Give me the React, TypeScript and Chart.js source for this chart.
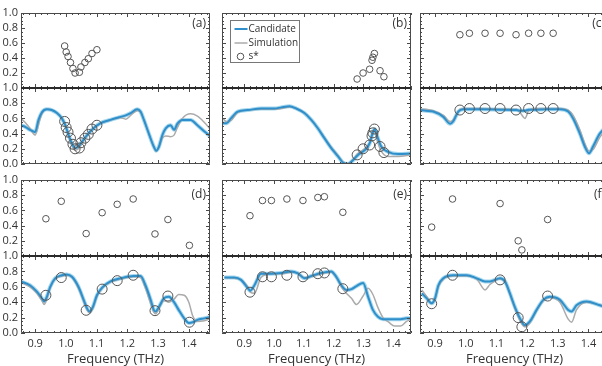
import React, { useEffect, useRef } from 'react';
import { Chart, registerables } from 'chart.js';

Chart.register(...registerables);

const FONT = "'Open Sans', 'Noto Sans', 'DejaVu Sans', sans-serif";

// ---- axis ticks / texts ----
const xTickValues = [0.9, 1.0, 1.1, 1.2, 1.3, 1.4];
const yTickValuesTop = [0.2, 0.4, 0.6, 0.8, 1.0];
const yTickValuesBottom = [0, 0.2, 0.4, 0.6, 0.8, 1.0];
const xAxisTitle = 'Frequency (THz)';
const panelLabels = ['(a)', '(b)', '(c)', '(d)', '(e)', '(f)'];
const seriesNames = ['Candidate', 'Simulation', 's*'];

// ---- frequency ranges per column (THz) ----
const xRangeCol1 = [0.854, 1.469];
const xRangeCol2 = [0.825, 1.46];
const xRangeCol3 = [0.851, 1.467];

// ---- (a) ----
const freqA = [0.853, 0.867, 0.883, 0.894, 0.9, 0.911, 0.922, 0.938, 0.954, 0.971, 0.987, 0.998, 1.009, 1.02, 1.03, 1.041, 1.052, 1.069, 1.09, 1.112, 1.145, 1.178, 1.195, 1.211, 1.232, 1.243, 1.254, 1.27, 1.286, 1.294, 1.303, 1.314, 1.325, 1.341, 1.352, 1.363, 1.379, 1.406, 1.428, 1.45, 1.472];
const candA = [0.51, 0.49, 0.45, 0.43, 0.42, 0.58, 0.68, 0.72, 0.71, 0.67, 0.6, 0.51, 0.38, 0.27, 0.21, 0.23, 0.29, 0.38, 0.47, 0.535, 0.58, 0.62, 0.64, 0.67, 0.72, 0.69, 0.58, 0.4, 0.23, 0.175, 0.23, 0.38, 0.47, 0.51, 0.45, 0.53, 0.58, 0.58, 0.51, 0.43, 0.36];
const simA = [0.6, 0.55, 0.47, 0.4, 0.38, 0.52, 0.66, 0.72, 0.71, 0.67, 0.6, 0.52, 0.36, 0.24, 0.18, 0.2, 0.27, 0.37, 0.47, 0.535, 0.58, 0.61, 0.59, 0.64, 0.7, 0.68, 0.58, 0.4, 0.22, 0.17, 0.22, 0.34, 0.37, 0.36, 0.38, 0.48, 0.6, 0.66, 0.63, 0.55, 0.45];
const sFreqA = [0.996, 1.001, 1.007, 1.015, 1.023, 1.03, 1.044, 1.049, 1.062, 1.073, 1.085, 1.101];
const sA = [0.56, 0.48, 0.42, 0.34, 0.26, 0.2, 0.21, 0.28, 0.34, 0.39, 0.46, 0.51];

// ---- (b) ----
const freqB = [0.827, 0.84, 0.855, 0.878, 0.912, 0.956, 1.001, 1.024, 1.052, 1.074, 1.102, 1.125, 1.147, 1.169, 1.192, 1.215, 1.231, 1.248, 1.265, 1.282, 1.304, 1.321, 1.332, 1.338, 1.347, 1.36, 1.383, 1.417, 1.461];
const candB = [0.535, 0.535, 0.6, 0.69, 0.71, 0.73, 0.73, 0.745, 0.76, 0.73, 0.67, 0.58, 0.47, 0.34, 0.21, 0.1, 0.02, 0.0, 0.05, 0.12, 0.18, 0.27, 0.42, 0.46, 0.36, 0.23, 0.16, 0.13, 0.14];
const simB = [0.6, 0.56, 0.57, 0.68, 0.71, 0.72, 0.72, 0.73, 0.75, 0.73, 0.67, 0.58, 0.47, 0.35, 0.22, 0.11, 0.03, 0.01, 0.06, 0.14, 0.2, 0.28, 0.4, 0.43, 0.3, 0.17, 0.1, 0.1, 0.12];
const sFreqB = [1.279, 1.299, 1.321, 1.329, 1.332, 1.337, 1.356, 1.369];
const sB = [0.12, 0.2, 0.25, 0.37, 0.41, 0.46, 0.23, 0.15];

// ---- (c) ----
const freqC = [0.851, 0.87, 0.894, 0.927, 0.949, 0.959, 0.976, 0.992, 1.05, 1.112, 1.165, 1.18, 1.193, 1.205, 1.22, 1.27, 1.307, 1.334, 1.35, 1.372, 1.388, 1.402, 1.415, 1.437, 1.467];
const candC = [0.71, 0.7, 0.69, 0.62, 0.53, 0.56, 0.69, 0.72, 0.72, 0.715, 0.71, 0.7, 0.7, 0.715, 0.715, 0.72, 0.72, 0.69, 0.6, 0.4, 0.23, 0.14, 0.23, 0.4, 0.52];
const simC = [0.72, 0.72, 0.7, 0.64, 0.56, 0.58, 0.7, 0.73, 0.73, 0.725, 0.72, 0.66, 0.6, 0.7, 0.73, 0.73, 0.73, 0.71, 0.64, 0.45, 0.27, 0.17, 0.19, 0.35, 0.5];
const sFreqC = [0.981, 1.012, 1.063, 1.112, 1.164, 1.205, 1.245, 1.285];
const sC = [0.71, 0.73, 0.73, 0.73, 0.71, 0.73, 0.73, 0.73];

// ---- (d) ----
const freqD = [0.853, 0.883, 0.905, 0.922, 0.929, 0.938, 0.949, 0.965, 0.987, 1.003, 1.02, 1.041, 1.058, 1.069, 1.077, 1.088, 1.101, 1.118, 1.145, 1.178, 1.221, 1.243, 1.259, 1.276, 1.286, 1.292, 1.303, 1.319, 1.335, 1.352, 1.367, 1.385, 1.4, 1.413, 1.428, 1.45, 1.472];
const candD = [0.67, 0.62, 0.54, 0.45, 0.41, 0.47, 0.6, 0.71, 0.75, 0.76, 0.73, 0.6, 0.43, 0.32, 0.28, 0.34, 0.49, 0.59, 0.67, 0.71, 0.74, 0.74, 0.62, 0.43, 0.3, 0.28, 0.34, 0.45, 0.47, 0.4, 0.3, 0.19, 0.13, 0.14, 0.17, 0.19, 0.21];
const simD = [0.66, 0.6, 0.52, 0.42, 0.37, 0.44, 0.58, 0.7, 0.74, 0.75, 0.72, 0.58, 0.41, 0.3, 0.26, 0.32, 0.47, 0.58, 0.66, 0.7, 0.73, 0.72, 0.58, 0.38, 0.27, 0.25, 0.32, 0.42, 0.4, 0.44, 0.5, 0.49, 0.4, 0.22, 0.15, 0.16, 0.19];
const sFreqD = [0.935, 0.985, 1.066, 1.118, 1.167, 1.219, 1.29, 1.332, 1.402];
const sD = [0.49, 0.72, 0.295, 0.57, 0.68, 0.75, 0.29, 0.48, 0.14];

// ---- (e) ----
const freqE = [0.833, 0.866, 0.889, 0.912, 0.92, 0.934, 0.956, 0.99, 1.024, 1.057, 1.08, 1.102, 1.125, 1.158, 1.192, 1.209, 1.226, 1.242, 1.26, 1.277, 1.299, 1.316, 1.332, 1.349, 1.366, 1.385, 1.405, 1.425, 1.445, 1.461];
const candE = [0.72, 0.72, 0.69, 0.58, 0.55, 0.62, 0.77, 0.77, 0.78, 0.8, 0.775, 0.71, 0.74, 0.78, 0.8, 0.73, 0.62, 0.56, 0.57, 0.61, 0.65, 0.47, 0.3, 0.21, 0.18, 0.18, 0.18, 0.18, 0.19, 0.19];
const simE = [0.72, 0.71, 0.69, 0.6, 0.53, 0.515, 0.72, 0.77, 0.77, 0.79, 0.78, 0.72, 0.73, 0.77, 0.79, 0.72, 0.6, 0.52, 0.45, 0.37, 0.48, 0.58, 0.5, 0.33, 0.2, 0.14, 0.09, 0.09, 0.15, 0.18];
const sFreqE = [0.919, 0.961, 0.991, 1.043, 1.097, 1.147, 1.169, 1.231];
const sE = [0.53, 0.73, 0.73, 0.75, 0.73, 0.77, 0.78, 0.575];

// ---- (f) ----
const freqF = [0.857, 0.873, 0.889, 0.9, 0.911, 0.927, 0.959, 1.003, 1.036, 1.063, 1.079, 1.112, 1.128, 1.144, 1.16, 1.177, 1.193, 1.209, 1.231, 1.253, 1.274, 1.307, 1.334, 1.345, 1.361, 1.394, 1.437, 1.467];
const candF = [0.515, 0.45, 0.385, 0.45, 0.62, 0.71, 0.75, 0.75, 0.71, 0.67, 0.67, 0.71, 0.67, 0.515, 0.34, 0.19, 0.1, 0.15, 0.3, 0.43, 0.47, 0.43, 0.3, 0.28, 0.36, 0.41, 0.36, 0.33];
const simF = [0.56, 0.47, 0.39, 0.44, 0.6, 0.7, 0.74, 0.74, 0.7, 0.56, 0.63, 0.7, 0.66, 0.5, 0.32, 0.16, 0.08, 0.13, 0.29, 0.42, 0.46, 0.4, 0.18, 0.14, 0.3, 0.4, 0.36, 0.33];
const sFreqF = [0.889, 0.957, 1.112, 1.171, 1.183, 1.267];
const sF = [0.38, 0.75, 0.69, 0.2, 0.08, 0.48];

type PanelDef = {
  col: number; row: number; label: string; xr: number[];
  freq: number[]; cand: number[]; sim: number[]; sFreq: number[]; s: number[];
};

const panels: PanelDef[] = [
  { col: 0, row: 0, label: panelLabels[0], xr: xRangeCol1, freq: freqA, cand: candA, sim: simA, sFreq: sFreqA, s: sA },
  { col: 1, row: 0, label: panelLabels[1], xr: xRangeCol2, freq: freqB, cand: candB, sim: simB, sFreq: sFreqB, s: sB },
  { col: 2, row: 0, label: panelLabels[2], xr: xRangeCol3, freq: freqC, cand: candC, sim: simC, sFreq: sFreqC, s: sC },
  { col: 0, row: 1, label: panelLabels[3], xr: xRangeCol1, freq: freqD, cand: candD, sim: simD, sFreq: sFreqD, s: sD },
  { col: 1, row: 1, label: panelLabels[4], xr: xRangeCol2, freq: freqE, cand: candE, sim: simE, sFreq: sFreqE, s: sE },
  { col: 2, row: 1, label: panelLabels[5], xr: xRangeCol3, freq: freqF, cand: candF, sim: simF, sFreq: sFreqF, s: sF },
];

// ---- layout (page pixels) ----
const CANVAS_W = 620;
const CANVAS_H = 366;
const COLS = [[21, 210], [222, 411], [420, 609]];
const ROWS = [[13, 88, 164], [180, 256, 333]];
const Y_W = 21;
const X_H = 33;

const BLUE = '#2f8fca';
const BLUE_BAND = 'rgba(105,188,228,0.6)';
const GRAY = '#ababab';
const CIRCLE = '#555555';
const FRAME = '#4a4a4a';
const TEXT = '#333333';

const pts = (xs: number[], ys: number[]) => xs.map((x, i) => ({ x, y: ys[i] }));

function framePlugin(panel: PanelDef, sub: 'top' | 'bottom') {
  return {
    id: 'frame_' + panel.col + '_' + panel.row + '_' + sub,
    afterDatasetsDraw(chart: any) {
      const ctx = chart.ctx;
      const { left, right, top, bottom } = chart.chartArea;
      const xs = chart.scales.x;
      const ys = chart.scales.y;
      ctx.save();
      ctx.strokeStyle = FRAME;
      ctx.lineWidth = 1;
      ctx.beginPath();
      const i0 = Math.ceil(xs.min * 50);
      const i1 = Math.floor(xs.max * 50);
      for (let i = i0; i <= i1; i++) {
        const px = Math.round(xs.getPixelForValue(i / 50)) + 0.5;
        const len = i % 5 === 0 ? 4 : 2;
        ctx.moveTo(px, top); ctx.lineTo(px, top + len);
        ctx.moveTo(px, bottom); ctx.lineTo(px, bottom - len);
      }
      for (let j = 0; j <= 20; j++) {
        const py = Math.round(ys.getPixelForValue(j / 20)) + 0.5;
        const len = j % 4 === 0 ? 4 : 2;
        ctx.moveTo(left, py); ctx.lineTo(left + len, py);
        ctx.moveTo(right, py); ctx.lineTo(right - len, py);
      }
      ctx.stroke();
      const l = Math.round(left) + 0.5, r = Math.round(right) - 0.5;
      const t = Math.round(top) + 0.5, b = Math.round(bottom) - 0.5;
      ctx.beginPath();
      ctx.moveTo(l, t); ctx.lineTo(l, b); ctx.lineTo(r, b); ctx.lineTo(r, t);
      if (sub === 'top') ctx.lineTo(l, t);
      ctx.stroke();
      if (sub === 'bottom') {
        ctx.strokeStyle = '#2a2a2a';
        ctx.lineWidth = 2;
        ctx.beginPath();
        ctx.moveTo(left, Math.round(top));
        ctx.lineTo(right, Math.round(top));
        ctx.stroke();
      }
      if (sub === 'top') {
        ctx.fillStyle = TEXT;
        ctx.font = `12px ${FONT}`;
        ctx.textAlign = 'right';
        ctx.textBaseline = 'middle';
        ctx.fillText(panel.label, right - 4, top + (panel.row === 0 ? 10.5 : 14.5));
      }
      if (sub === 'top' && panel.col === 1 && panel.row === 0) {
        const bx = Math.round(left) + 8.5, by = Math.round(top) + 7.5;
        ctx.fillStyle = '#ffffff';
        ctx.fillRect(bx, by, 69, 42);
        ctx.strokeStyle = '#777';
        ctx.lineWidth = 1;
        ctx.strokeRect(bx, by, 69, 42);
        const rowsY = [by + 8.5, by + 22.5, by + 36];
        ctx.lineWidth = 2;
        ctx.strokeStyle = BLUE;
        ctx.beginPath(); ctx.moveTo(bx + 4, rowsY[0]); ctx.lineTo(bx + 17, rowsY[0]); ctx.stroke();
        ctx.lineWidth = 1.5;
        ctx.strokeStyle = GRAY;
        ctx.beginPath(); ctx.moveTo(bx + 4, rowsY[1]); ctx.lineTo(bx + 17, rowsY[1]); ctx.stroke();
        ctx.lineWidth = 1;
        ctx.strokeStyle = CIRCLE;
        ctx.beginPath(); ctx.arc(bx + 10, rowsY[2], 3.3, 0, Math.PI * 2); ctx.stroke();
        ctx.fillStyle = TEXT;
        ctx.font = `10px ${FONT}`;
        ctx.textAlign = 'left';
        ctx.textBaseline = 'middle';
        ctx.fillText(seriesNames[0], bx + 18, rowsY[0]);
        ctx.fillText(seriesNames[1], bx + 18, rowsY[1]);
        ctx.fillText(seriesNames[2], bx + 18, rowsY[2]);
      }
      ctx.restore();
    },
  };
}

function buildChart(canvas: HTMLCanvasElement, panel: PanelDef, sub: 'top' | 'bottom') {
  const [L, R] = COLS[panel.col];
  const [T, M, B] = ROWS[panel.row];
  const top = sub === 'top' ? T : M;
  const bottom = sub === 'top' ? M : B;
  const showY = panel.col === 0;
  const showX = sub === 'bottom' && panel.row === 1;
  const padding = {
    left: showY ? L - Y_W : L,
    right: CANVAS_W - R,
    top,
    bottom: CANVAS_H - bottom - (showX ? X_H : 0),
  };

  const circles = {
    label: seriesNames[2],
    data: pts(panel.sFreq, panel.s),
    showLine: false,
    pointRadius: sub === 'top' ? 3.3 : 5,
    pointHoverRadius: sub === 'top' ? 3.3 : 5,
    pointBorderWidth: 1,
    pointBorderColor: CIRCLE,
    pointBackgroundColor: 'rgba(0,0,0,0)',
    order: 0,
  };

  const datasets: any[] = [circles];
  if (sub === 'bottom') {
    datasets.push(
      {
        label: seriesNames[0],
        data: pts(panel.freq, panel.cand),
        borderColor: BLUE,
        borderWidth: 2,
        pointRadius: 0,
        cubicInterpolationMode: 'monotone',
        order: 1,
      },
      {
        label: seriesNames[1],
        data: pts(panel.freq, panel.sim),
        borderColor: GRAY,
        borderWidth: 1.5,
        pointRadius: 0,
        cubicInterpolationMode: 'monotone',
        order: 2,
      },
      {
        label: seriesNames[0] + ' band',
        data: pts(panel.freq, panel.cand),
        borderColor: BLUE_BAND,
        borderWidth: 4,
        pointRadius: 0,
        cubicInterpolationMode: 'monotone',
        order: 3,
      }
    );
  }

  return new Chart(canvas, {
    type: 'line',
    data: { datasets },
    options: {
      animation: false,
      responsive: false,
      devicePixelRatio: 1,
      events: [],
      layout: { padding },
      plugins: { legend: { display: false }, tooltip: { enabled: false } },
      scales: {
        x: {
          type: 'linear',
          min: panel.xr[0],
          max: panel.xr[1],
          display: showX,
          afterFit: (s: any) => { if (showX) s.height = X_H; },
          afterBuildTicks: (s: any) => { s.ticks = xTickValues.map((v) => ({ value: v })); },
          grid: { display: false, drawTicks: false },
          border: { display: false },
          ticks: {
            autoSkip: false,
            maxRotation: 0,
            padding: 4,
            color: TEXT,
            font: { family: FONT, size: 11 },
            callback: (v: any) => Number(v).toFixed(1),
          },
          title: {
            display: true,
            text: xAxisTitle,
            color: TEXT,
            font: { family: FONT, size: 13, lineHeight: 1 },
            padding: { top: 0, bottom: 0 },
          },
        },
        y: {
          type: 'linear',
          min: 0,
          max: 1,
          display: showY,
          afterFit: (s: any) => { if (showY) s.width = Y_W; },
          afterBuildTicks: (s: any) => {
            s.ticks = (sub === 'top' ? yTickValuesTop : yTickValuesBottom).map((v) => ({ value: v }));
          },
          grid: { display: false, drawTicks: false },
          border: { display: false },
          ticks: {
            autoSkip: false,
            padding: 3,
            color: TEXT,
            font: { family: FONT, size: 11 },
            callback: (v: any) => Number(v).toFixed(1),
          },
        },
      },
    },
    plugins: [framePlugin(panel, sub)],
  } as any);
}

export default function App() {
  const refs = useRef<(HTMLCanvasElement | null)[]>([]);

  useEffect(() => {
    const charts: Chart[] = [];
    panels.forEach((p, i) => {
      const ct = refs.current[i * 2];
      const cb = refs.current[i * 2 + 1];
      if (ct) charts.push(buildChart(ct, p, 'top'));
      if (cb) charts.push(buildChart(cb, p, 'bottom'));
    });
    return () => charts.forEach((c) => c.destroy());
  }, []);

  const canvases = [];
  for (let i = 0; i < panels.length * 2; i++) {
    canvases.push(
      <canvas
        key={i}
        ref={(el) => { refs.current[i] = el; }}
        width={CANVAS_W}
        height={CANVAS_H}
        style={{ position: 'absolute', left: 0, top: 0 }}
      />
    );
  }

  return (
    <div
      style={{
        position: 'fixed',
        left: 0,
        top: 0,
        width: 602,
        height: 366,
        overflow: 'hidden',
        background: '#ffffff',
      }}
    >
      {canvases}
    </div>
  );
}
